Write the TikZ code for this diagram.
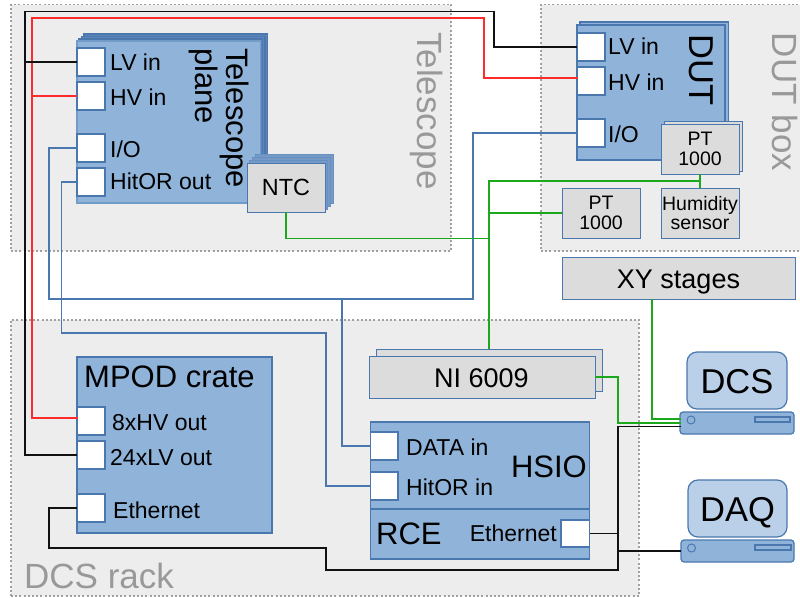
\documentclass[tikz,border=0pt]{standalone}
\usepackage{fontspec}
\setmainfont{Liberation Sans}
\definecolor{regionfill}{HTML}{EDEDED}
\definecolor{regionline}{HTML}{A0A0A0}
\definecolor{regiontext}{HTML}{999999}
\definecolor{bluefill}{HTML}{8FB3D9}
\definecolor{blueline}{HTML}{4A78AE}
\definecolor{stackfill}{HTML}{5F86BA}
\definecolor{grayfill}{HTML}{DCDCDC}
\definecolor{monitorfill}{HTML}{BAD0E8}
\definecolor{wiregreen}{HTML}{1CA81C}
\definecolor{wirered}{HTML}{FF2A2A}
\definecolor{wireblack}{HTML}{111111}
\newcommand{\fs}[1]{\fontsize{#1}{#1}\selectfont}
% \rbox[options]{name}{x1}{y1}{x2}{y2}{text}
\newcommand{\rbox}[7][]{%
  \pgfmathsetmacro{\cxx}{(#3+#5)/2}\pgfmathsetmacro{\cyy}{(#4+#6)/2}%
  \pgfmathsetmacro{\www}{#5-#3}\pgfmathsetmacro{\hhh}{#6-#4}%
  \node[base,minimum width=\www pt,minimum height=\hhh pt,#1] (#2) at (\cxx,\cyy) {#7};}
\tikzset{
  base/.style={inner sep=0pt,outer sep=0pt,rectangle,align=center},
  region/.style={fill=regionfill,draw=regionline,line width=1.2pt,dash pattern=on 2pt off 2.2pt},
  regionlabel/.style={text=regiontext,font=\fs{35},inner sep=0pt},
  unit/.style={fill=bluefill,draw=blueline,line width=1.1pt},
  stacked/.style={fill=stackfill,draw=blueline,line width=1.1pt},
  sensor/.style={fill=grayfill,draw=blueline,line width=1pt},
  port/.style={fill=white,draw=blueline,line width=1.1pt},
  monitor/.style={fill=monitorfill,draw=blueline,line width=1.2pt,rounded corners=10pt,font=\fs{34.5}},
  pcbase/.style={fill=bluefill,draw=blueline,line width=1.2pt,rounded corners=3pt},
  lbl/.style={font=\fs{23},anchor=west,inner sep=0pt},
  big/.style={font=\fs{31},inner sep=0pt},
  wblack/.style={draw=wireblack,line width=1.2pt},
  wred/.style={draw=wirered,line width=1.3pt},
  wblue/.style={draw=blueline,line width=1.6pt},
  wgreen/.style={draw=wiregreen,line width=1.3pt}
}
\begin{document}
\begin{tikzpicture}[x=1pt,y=-1pt]
\useasboundingbox (0,0) rectangle (800,597);
% regions
\rbox[region]{telescoperegion}{11}{4.5}{451}{251}{}
\rbox[region]{dutregion}{541}{4.5}{815}{251}{}
\rbox[region]{dcsregion}{11}{320}{639}{596}{}
\node[regionlabel,rotate=-90] (telescopelabel) at (427,111) {Telescope};
\node[regionlabel,rotate=-90] (dutboxlabel) at (785,102) {DUT box};
\node[regionlabel,anchor=west] (dcsracklabel) at (24,576) {DCS rack};
% telescope plane stack
\rbox[stacked]{tpthree}{84}{34}{267.5}{196}{}
\rbox[stacked]{tptwo}{81.5}{36.5}{265}{198.5}{}
\rbox[stacked]{tpone}{79}{39}{262.5}{201}{}
\rbox[unit,draw=bluefill!60!blueline]{tp}{77}{41}{260.5}{203}{}
\node[font=\fs{31},rotate=-90,align=left,inner sep=0pt] (tplabel) at (219,118) {\fontsize{31}{32}\selectfont Telescope\\plane};
\rbox[port]{tpLV}{77}{48}{105}{76}{}
\rbox[port]{tpHV}{77}{82}{105}{110}{}
\rbox[port]{tpIO}{77}{134}{105}{162}{}
\rbox[port]{tpHit}{77}{168}{105}{196}{}
\node[lbl] (tpLVl) at (110,62) {LV in};
\node[lbl] (tpHVl) at (110,97) {HV in};
\node[lbl] (tpIOl) at (110,149) {I/O};
\node[lbl] (tpHitl) at (110,181) {HitOR out};
% NTC
\rbox[stacked,fill=bluefill!45!stackfill,draw=blueline!60!bluefill,line width=.9pt]{ntcthree}{255}{154}{333}{203}{}
\rbox[stacked,fill=bluefill!45!stackfill,draw=blueline!60!bluefill,line width=.9pt]{ntctwo}{252}{157}{330}{206}{}
\rbox[stacked,fill=bluefill!45!stackfill,draw=blueline!60!bluefill,line width=.9pt]{ntcone}{249.5}{160}{327.5}{209}{}
\rbox[sensor,font=\fs{23.4}]{ntc}{247}{163}{325}{212}{NTC}
% DUT
\rbox[unit]{dutback}{580}{22}{728.5}{157}{}
\rbox[unit]{dut}{577}{25}{725}{160}{}
\node[font=\fs{34.5},rotate=-90,inner sep=0pt] (dutlabel) at (701,70) {DUT};
\rbox[port]{dutLV}{577}{33}{605}{61}{}
\rbox[port]{dutHV}{577}{67}{605}{95}{}
\rbox[port]{dutIO}{577}{119}{605}{147}{}
\node[lbl] (dutLVl) at (608,46) {LV in};
\node[lbl] (dutHVl) at (608,82) {HV in};
\node[lbl] (dutIOl) at (608,134) {I/O};
\rbox[sensor]{ptaback}{664}{121}{742}{171}{}
\rbox[sensor,font=\fs{19.5}]{pta}{661}{124}{739}{174}{\fontsize{19.5}{22}\selectfont PT\\1000}
\rbox[sensor,font=\fs{19.5}]{ptb}{562}{188}{640}{238}{\fontsize{19.5}{22}\selectfont PT\\1000}
\rbox[sensor,font=\fs{19.5}]{hum}{661}{188}{739}{238}{\fontsize{19.5}{22}\selectfont Humidity\\sensor}
\rbox[sensor]{xy}{562}{257}{795}{299}{}
\node[font=\fs{27},inner sep=0pt,anchor=base] (xyl) at (678.5,288) {XY stages};
% NI
\rbox[sensor]{niback}{376}{349}{602}{391}{}
\rbox[sensor]{ni}{369}{356}{595}{398}{}
\node[font=\fs{27},inner sep=0pt,anchor=base] (nil) at (481.5,387) {NI 6009};
% MPOD
\rbox[unit]{mpod}{77}{357}{272}{533}{}
\node[big,anchor=west] (mpodl) at (84,377) {MPOD crate};
\rbox[port]{mpHV}{77}{407}{105}{435}{}
\rbox[port]{mpLV}{77}{441}{105}{469}{}
\rbox[port]{mpEth}{77}{494}{105}{522}{}
\node[lbl] (mpHVl) at (112,423) {8xHV out};
\node[lbl] (mpLVl) at (110,458) {24xLV out};
\node[lbl] (mpEthl) at (113,510) {Ethernet};
% HSIO / RCE
\rbox[unit]{hsio}{370.5}{422}{589.5}{509}{}
\rbox[unit]{rce}{370.5}{509}{589.5}{559}{}
\node[big,anchor=east] (hsiol) at (587,467) {HSIO};
\node[big,anchor=west] (rcel) at (376,534) {RCE};
\rbox[port]{hsData}{370.5}{432}{398}{460}{}
\rbox[port]{hsHit}{370.5}{472}{398}{500}{}
\rbox[port]{rceEth}{561}{520}{589.5}{547}{}
\node[lbl] (hsDatal) at (406,447) {DATA in};
\node[lbl] (hsHitl) at (406,487) {HitOR in};
\node[lbl,anchor=east] (rceEthl) at (557,533) {Ethernet};
% computers
\rbox[monitor]{dcsmon}{687}{352}{787}{409}{}
\node[font=\fs{34.5},inner sep=0pt,anchor=base] (dcsl) at (737,393) {DCS};
\rbox[pcbase]{dcspc}{680}{412}{794}{434}{}
\rbox[base,draw=blueline,line width=1.1pt]{dcsslot}{755}{417}{790}{422}{}
\node[circle,draw=blueline,line width=1pt,minimum size=8pt,inner sep=0pt] (dcsled) at (691,420) {};
\rbox[monitor]{daqmon}{688}{480}{787}{537}{}
\node[font=\fs{34.5},inner sep=0pt,anchor=base] (daql) at (737.5,521) {DAQ};
\rbox[pcbase]{daqpc}{681}{540}{794}{562}{}
\rbox[base,draw=blueline,line width=1.1pt]{daqslot}{755}{545}{791}{550}{}
\node[circle,draw=blueline,line width=1pt,minimum size=8pt,inner sep=0pt] (daqled) at (691.5,548) {};
% free wire ends
\coordinate (mpHVend) at (78,418);
\coordinate (dutHVend) at (578,78);
\coordinate (dcsG) at (680.5,419);
\coordinate (dcsN) at (680.5,423);
\coordinate (dcsK) at (680.5,426.5);
\coordinate (tapBlack) at (25,62);
\coordinate (tapRed) at (32,96);
\coordinate (rceTap) at (618,533.5);
\coordinate (daqTap) at (618,551);
\coordinate (hsTap) at (342,299);
\coordinate (greenA) at (489,181);
\coordinate (greenB) at (489,213);
\coordinate (greenC) at (489,238.5);
\coordinate (greenTop) at (700,181);
% wires
\draw[wred] (mpHVend) -| (32,18) -| (484,78) -- (dutHVend);
\draw[wred] (tapRed) -- (tpHV.west);
\draw[wblack] (mpLV.west) -| (25,11.7) -| (494,47) -- (dutLV.west);
\draw[wblack] (tapBlack) -- (tpLV.west);
\draw[wblue] (tpIO.west) -| (49,299) -| (473,133) -- (dutIO.west);
\draw[wblue] (tpHit.west) -| (61.5,333) -| (326,486) -- (hsHit.west);
\draw[wblue] (hsTap) |- (hsData.west);
\draw[wgreen] (ntc.south -| 286,0) |- (greenC);
\draw[wgreen] (ni.north -| 489,0) ++(0,-7) -- (greenA) -- (greenTop);
\draw[wgreen] (ptb.west) -- (greenB);
\draw[wgreen] (hum.north) -- (pta.south);
\draw[wgreen] (xy.south -| 652,0) |- (dcsG);
\draw[wgreen] (ni.east) -| (618,423) -- (dcsN);
\draw[wblack] (mpEth.west) -| (49,548) -| (326,570) -| (618,426.5) -- (dcsK);
\draw[wblack] (rceEth.east) -- (rceTap);
\draw[wblack] (daqTap) -- (daqpc.west |- daqTap);
\end{tikzpicture}
\end{document}
